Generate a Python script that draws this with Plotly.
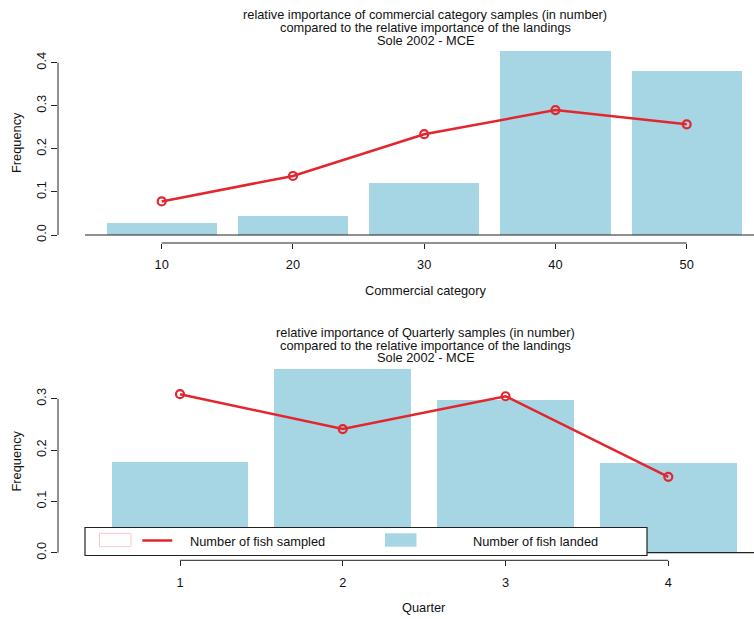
import plotly.graph_objects as go

W, H = 754, 619

# ---- data ----
comm_categories = ["10", "20", "30", "40", "50"]
comm_landed = [0.028, 0.044, 0.121, 0.426, 0.381]
comm_sampled = [0.078, 0.137, 0.234, 0.290, 0.257]

quarters = ["1", "2", "3", "4"]
q_landed = [0.176, 0.358, 0.298, 0.175]
q_sampled = [0.309, 0.241, 0.305, 0.148]

title_top_lines = ["relative importance of commercial category samples (in number)",
                   "compared to the relative importance of the landings",
                   "Sole 2002 - MCE"]
title_bot_lines = ["relative importance of Quarterly samples (in number)",
                   "compared to the relative importance of the landings",
                   "Sole 2002 - MCE"]

BAR = "#a6d5e3"
RED = "#e3262e"
AX = "#222222"
FONT = "Liberation Sans, Arial, sans-serif"
FS = 12.8

def px_x(p):
    return p / W

def px_y(p):
    return 1 - p / H

fig = go.Figure()

fig.add_trace(go.Bar(x=list(range(len(comm_categories))), y=comm_landed, width=0.84,
                     marker=dict(color=BAR, line=dict(width=0)), xaxis="x", yaxis="y",
                     name="Number of fish landed", showlegend=False))
fig.add_trace(go.Scatter(x=list(range(len(comm_categories))), y=comm_sampled, mode="lines+markers",
                         line=dict(color=RED, width=2.5),
                         marker=dict(symbol="circle-open", size=8, color=RED, line=dict(width=2.2, color=RED)),
                         xaxis="x", yaxis="y", name="Number of fish sampled", showlegend=False, cliponaxis=False))

fig.add_trace(go.Bar(x=list(range(len(quarters))), y=q_landed, width=0.84,
                     marker=dict(color=BAR, line=dict(width=0)), xaxis="x2", yaxis="y2",
                     name="Number of fish landed", showlegend=False))
fig.add_trace(go.Scatter(x=list(range(len(quarters))), y=q_sampled, mode="lines+markers",
                         line=dict(color=RED, width=2.5),
                         marker=dict(symbol="circle-open", size=8, color=RED, line=dict(width=2.2, color=RED)),
                         xaxis="x2", yaxis="y2", name="Number of fish sampled", showlegend=False, cliponaxis=False))

common_x = dict(showgrid=False, zeroline=False, showline=False, ticks="outside", ticklen=5,
                tickcolor=AX, tickwidth=1, tickfont=dict(family=FONT, size=FS, color="#111"),
                ticklabelstandoff=5)
common_y = dict(showgrid=False, zeroline=False, showline=False, ticks="outside", ticklen=6,
                tickcolor=AX, tickwidth=1, tickangle=-90, tickfont=dict(family=FONT, size=FS, color="#111"))

# top panel: tick 10 at px 161.7, spacing 131.25; y 0 at 235, 430.8 px/unit
fig.update_layout(
    xaxis=dict(domain=[px_x(58), 1], range=[(58 - 161.7) / 131.25, (754 - 161.7) / 131.25],
               tickvals=list(range(len(comm_categories))), ticktext=comm_categories, anchor="y", **common_x),
    yaxis=dict(domain=[px_y(243), px_y(48)], range=[-(243 - 235) / 430.8, (235 - 48) / 430.8],
               tickvals=[0, 0.1, 0.2, 0.3, 0.4], ticktext=["0.0", "0.1", "0.2", "0.3", "0.4"],
               anchor="x", **common_y),
    xaxis2=dict(domain=[px_x(58), 1], range=[(58 - 180) / 162.77, (754 - 180) / 162.77],
                tickvals=list(range(len(quarters))), ticktext=quarters, anchor="y2", **common_x),
    yaxis2=dict(domain=[px_y(560.3), px_y(365)], range=[-(560.3 - 552.7) / 513, (552.7 - 365) / 513],
                tickvals=[0, 0.1, 0.2, 0.3], ticktext=["0.0", "0.1", "0.2", "0.3"],
                anchor="x2", **common_y),
)

shapes = []
# y axis lines
shapes.append(dict(type="line", xref="x domain", yref="y", x0=0, x1=0, y0=0, y1=0.4, line=dict(color=AX, width=1)))
shapes.append(dict(type="line", xref="x2 domain", yref="y2", x0=0, x1=0, y0=0, y1=0.3, line=dict(color=AX, width=1)))
# x axis lines
shapes.append(dict(type="line", xref="x", yref="y domain", x0=0, x1=len(comm_categories) - 1, y0=0, y1=0, line=dict(color=AX, width=1)))
shapes.append(dict(type="line", xref="x2", yref="y2 domain", x0=0, x1=len(quarters) - 1, y0=0, y1=0, line=dict(color=AX, width=1)))
# baselines
shapes.append(dict(type="line", xref="x", yref="y", x0=(85 - 161.7) / 131.25, x1=(754 - 161.7) / 131.25, y0=0, y1=0, line=dict(color=AX, width=1.2)))
shapes.append(dict(type="line", xref="x2", yref="y2", x0=(85 - 180) / 162.77, x1=(754 - 180) / 162.77, y0=0, y1=0, line=dict(color=AX, width=1.2)))
# legend box
shapes.append(dict(type="rect", xref="paper", yref="paper", x0=px_x(85), x1=px_x(647), y0=px_y(555.5), y1=px_y(527.5),
                   fillcolor="white", line=dict(color=AX, width=1.2), layer="above"))
shapes.append(dict(type="rect", xref="paper", yref="paper", x0=px_x(99.5), x1=px_x(131), y0=px_y(546.7), y1=px_y(533.3),
                   fillcolor="white", line=dict(color="#f6c8cb", width=1), layer="above"))
shapes.append(dict(type="line", xref="paper", yref="paper", x0=px_x(142.3), x1=px_x(172.3), y0=px_y(540.5), y1=px_y(540.5),
                   line=dict(color=RED, width=2.5), layer="above"))
shapes.append(dict(type="rect", xref="paper", yref="paper", x0=px_x(385), x1=px_x(416.5), y0=px_y(546.7), y1=px_y(533.3),
                   fillcolor=BAR, line=dict(color=BAR, width=0), layer="above"))

annotations = []
def ann(text, x, y, size=FS, angle=0, xanchor="center"):
    annotations.append(dict(text=text, x=px_x(x), y=px_y(y), xref="paper", yref="paper", showarrow=False,
                            font=dict(family=FONT, size=size, color="#111"), textangle=angle,
                            xanchor=xanchor, yanchor="middle", align="center"))

for line, yy in zip(title_top_lines, [14.8, 27.6, 40.6]):
    ann(line, 425, yy)
for line, yy in zip(title_bot_lines, [332.6, 345.2, 357.9]):
    ann(line, 425, yy)
ann("Commercial category", 425, 291)
ann("Quarter", 424, 607.5)
ann("Frequency", 16, 143, angle=-90)
ann("Frequency", 16, 461.5, angle=-90)
ann("Number of fish sampled", 188, 541, xanchor="left")
ann("Number of fish landed", 535, 541)

fig.update_layout(width=W, height=H, margin=dict(l=0, r=0, t=0, b=0),
                  paper_bgcolor="white", plot_bgcolor="white",
                  shapes=shapes, annotations=annotations, showlegend=False, bargap=0)

fig.write_html("out.html", config={"displayModeBar": False},
               post_script="document.body.style.margin='0px';document.body.style.overflow='hidden';")
